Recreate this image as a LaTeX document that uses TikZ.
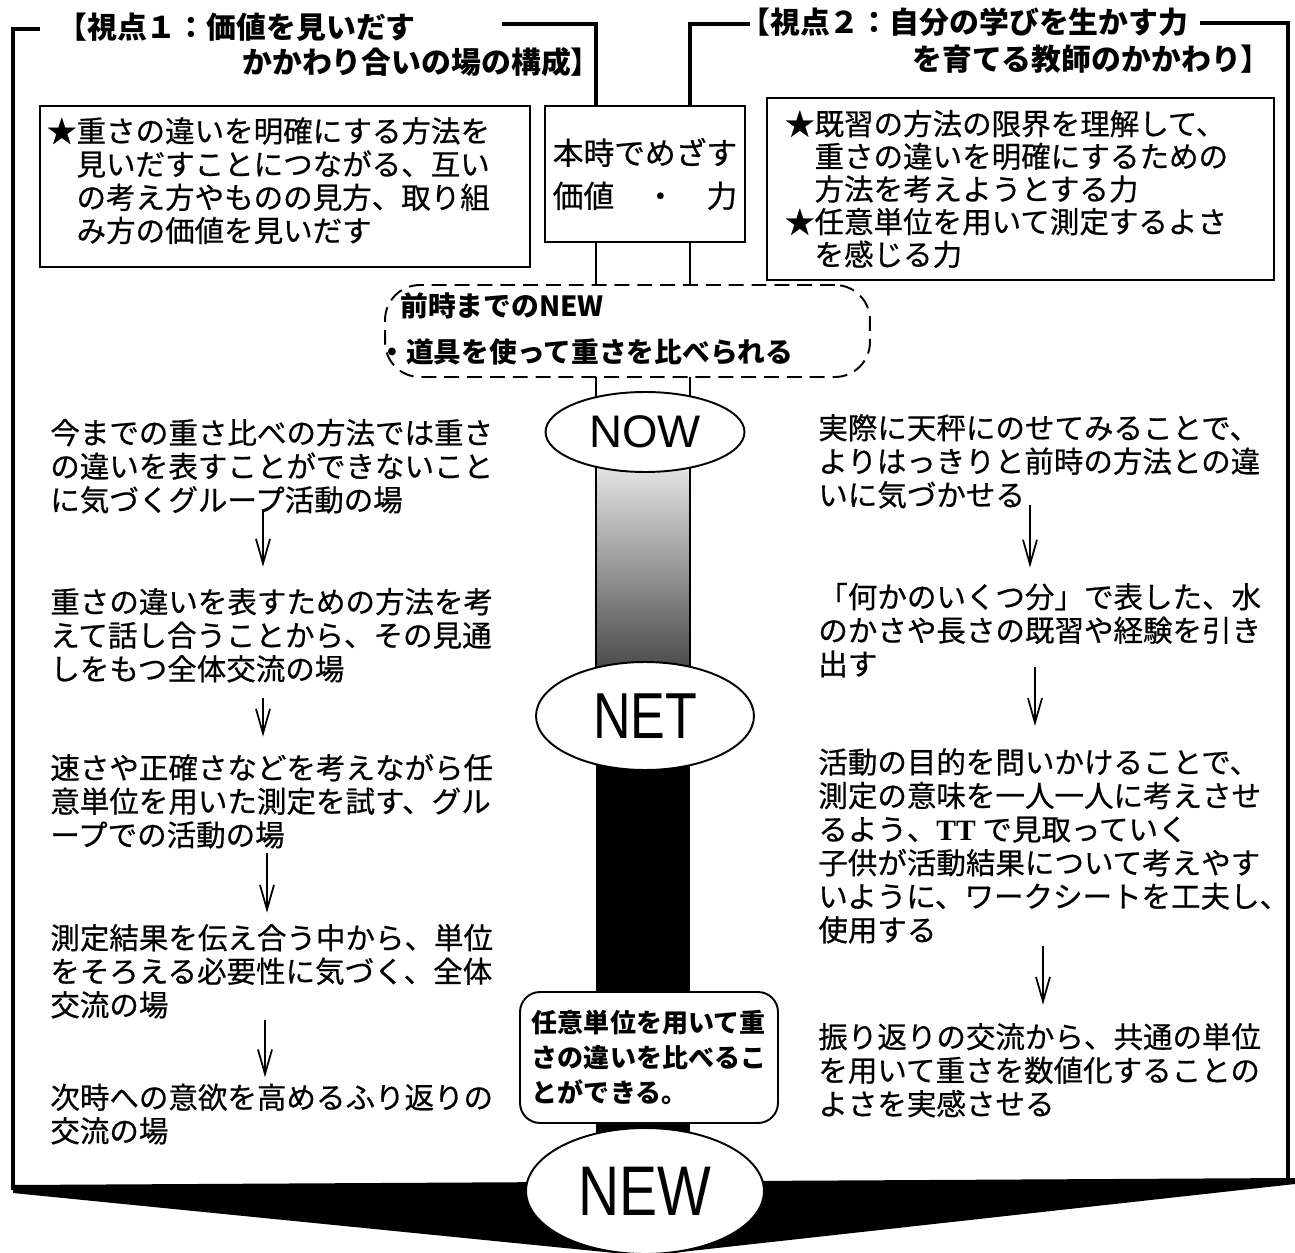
\documentclass[tikz,border=0pt]{standalone}
\usepackage{fontspec}
\usepackage{graphicx}
\setmainfont{Noto Sans CJK JP}
\newfontfamily\bodyfont{Noto Sans CJK JP}[FakeBold=0.6]
\newfontfamily\wordfont{Liberation Sans}
\newfontfamily\romfont{Liberation Serif}
\usetikzlibrary{calc,arrows.meta,backgrounds,shapes.geometric}

\begin{document}
\begin{tikzpicture}[x=0.02cm, y=-0.02cm,
    frame/.style={line width=1.8pt},
    rail/.style={line width=1.1pt},
    box/.style={draw, line width=1.1pt, inner ysep=0pt},
    dashbox/.style={draw, dash pattern=on 8.5pt off 4.5pt, rounded corners=0.7cm, line width=1.1pt, fill=white},
    title/.style={anchor=base west, inner sep=0pt, font=\fontsize{17}{17}\selectfont\bfseries},
    body/.style={anchor=base west, inner sep=0pt, align=left, font=\bodyfont\fontsize{16.8}{19.1}\selectfont},
    flow/.style={line width=1pt, -{Straight Barb[length=14pt, width=8pt]}},
    stage/.style={ellipse, draw, fill=white, line width=1.1pt, inner sep=0pt},
    callout/.style={draw, fill=white, line width=1.1pt, rounded corners=0.4cm, align=left},
  ]
  \def\lx{-49}
  \def\rx{45}

  \useasboundingbox (0,0) rectangle (1295,1253);

  \node[title] (t1a) at (57,39) {【視点１：価値を見いだす};
  \node[title] (t1b) at (242,74) {かかわり合いの場の構成】};
  \node[title] (t2a) at (740,34) {【視点２：自分の学びを生かす力};
  \node[title] (t2b) at (912,71) {を育てる教師のかかわり】};

  \node[box, inner xsep=0.14cm, text width=9.52cm, minimum height=3.22cm, align=left,
        font=\bodyfont\fontsize{16.8}{18.9}\selectfont] (view) at (285,186.5)
    {★重さの違いを明確にする方法を\\　見いだすことにつながる、互い\\　の考え方やものの見方、取り組\\　み方の価値を見いだす\rule[-8pt]{0pt}{8pt}};
  \node[box, minimum width=4cm, minimum height=2.72cm, align=center,
        font=\bodyfont\fontsize{17.5}{24.5}\selectfont] (goal) at (645,174)
    {本時でめざす\\価値　・　力};
  \node[box, inner xsep=0.36cm, text width=9.42cm, minimum height=3.64cm, align=left,
        font=\bodyfont\fontsize{16.8}{18.6}\selectfont] (skill) at (1020.5,189)
    {★既習の方法の限界を理解して、\\　重さの違いを明確にするための\\　方法を考えようとする力\\★任意単位を用いて測定するよさ\\　を感じる力};

  \node[dashbox, minimum width=9.7cm, minimum height=1.84cm] (prev) at (627.5,331) {};
  \node[anchor=base west, inner sep=0pt, align=left, font=\fontsize{15.8}{26.7}\selectfont\bfseries] (prevtxt) at (378,363)
    {\hspace{12.5pt}前時までのNEW\\・道具を使って重さを比べられる};

  \node[stage, minimum width=3.98cm, minimum height=1.6cm] (now) at (645,432)
    {\wordfont\fontsize{26}{26}\selectfont NOW};
  \node[stage, minimum width=4.36cm, minimum height=2.16cm] (net) at (645,716)
    {\wordfont\fontsize{37}{37}\selectfont\scalebox{0.8}[1]{NET}};
  \node[callout, minimum width=5.16cm, minimum height=2.62cm, font=\fontsize{14.8}{20}\selectfont\bfseries] (aim) at (649,1057.5)
    {任意単位を用いて重\\さの違いを比べるこ\\とができる。};
  \node[stage, minimum width=4.76cm, minimum height=2.52cm] (new) at (645,1191)
    {\wordfont\fontsize{40}{40}\selectfont\scalebox{0.81}[1]{NEW}};

  \node[body] (l1) at (50,511) {今までの重さ比べの方法では重さ\\の違いを表すことができないこと\\に気づくグループ活動の場};
  \node[body] (l2) at (50,680) {重さの違いを表すための方法を考\\えて話し合うことから、その見通\\しをもつ全体交流の場};
  \node[body] (l3) at (50,846) {速さや正確さなどを考えながら任\\意単位を用いた測定を試す、グル\\ープでの活動の場};
  \node[body] (l4) at (50,1016) {測定結果を伝え合う中から、単位\\をそろえる必要性に気づく、全体\\交流の場};
  \node[body] (l5) at (50,1142) {次時への意欲を高めるふり返りの\\交流の場};

  \node[body] (r1) at (818,506) {実際に天秤にのせてみることで、\\よりはっきりと前時の方法との違\\いに気づかせる};
  \node[body] (r2) at (818,675) {「何かのいくつ分」で表した、水\\のかさや長さの既習や経験を引き\\出す};
  \node[body] (r3) at (818,941) {活動の目的を問いかけることで、\\測定の意味を一人一人に考えさせ\\るよう、{\romfont\bfseries TT} で見取っていく\\子供が活動結果について考えやす\\いように、ワークシートを工夫し、\\使用する};
  \node[body] (r4) at (818,1115) {振り返りの交流から、共通の単位\\を用いて重さを数値化することの\\よさを実感させる};

  \draw[flow] ($(l1.south west)+(213,-4)$) -- ($(l2.north west)+(213,-21)$);
  \draw[flow] ($(l2.south west)+(213,15)$) -- ($(l3.north west)+(213,-17)$);
  \draw[flow] ($(l3.south west)+(217,4)$) -- ($(l4.north west)+(217,-11)$);
  \draw[flow] ($(l4.south west)+(215,1)$) -- ($(l5.north west)+(215,-6)$);
  \draw[flow] ($(r1.south west)+(212,-4)$) -- ($(r2.north west)+(212,-15)$);
  \draw[flow] ($(r2.south west)+(217,-11)$) -- ($(r3.north west)+(217,-22)$);
  \draw[flow] ($(r3.south west)+(225,2)$) -- ($(r4.north west)+(225,-18)$);

  \coordinate (k0) at (40,29);
  \coordinate (k1) at (502,24);
  \coordinate (k2) at (750,24);
  \coordinate (k3) at (1200,23);
  \coordinate (e0) at (13,1190);
  \coordinate (e1) at (1288,1181);
  \draw[frame] (k0) -| (e0);
  \draw[frame] (k1) -| ($(goal.north)+(\lx,0)$);
  \draw[frame] (k2) -| ($(goal.north)+(\rx,0)$);
  \draw[frame] (k3) -| (e1);

  \begin{scope}[on background layer]
    \shade[top color=white, bottom color=black!85] ($(now.center)+(\lx,0)$) rectangle ($(net.center)+(\rx,0)$);
    \fill ($(net.center)+(\lx,0)$) rectangle ($(new.center)+(\rx,0)$);
    \draw[rail] ($(goal.south)+(\lx,0)$) -- ($(net.center)+(\lx,0)$);
    \draw[rail] ($(goal.south)+(\rx,0)$) -- ($(net.center)+(\rx,0)$);
    \fill (13,1185) -- (1295,1178) -- (1295,1184) -- (645,1256) -- (13,1193) -- cycle;
  \end{scope}
\end{tikzpicture}
\end{document}
